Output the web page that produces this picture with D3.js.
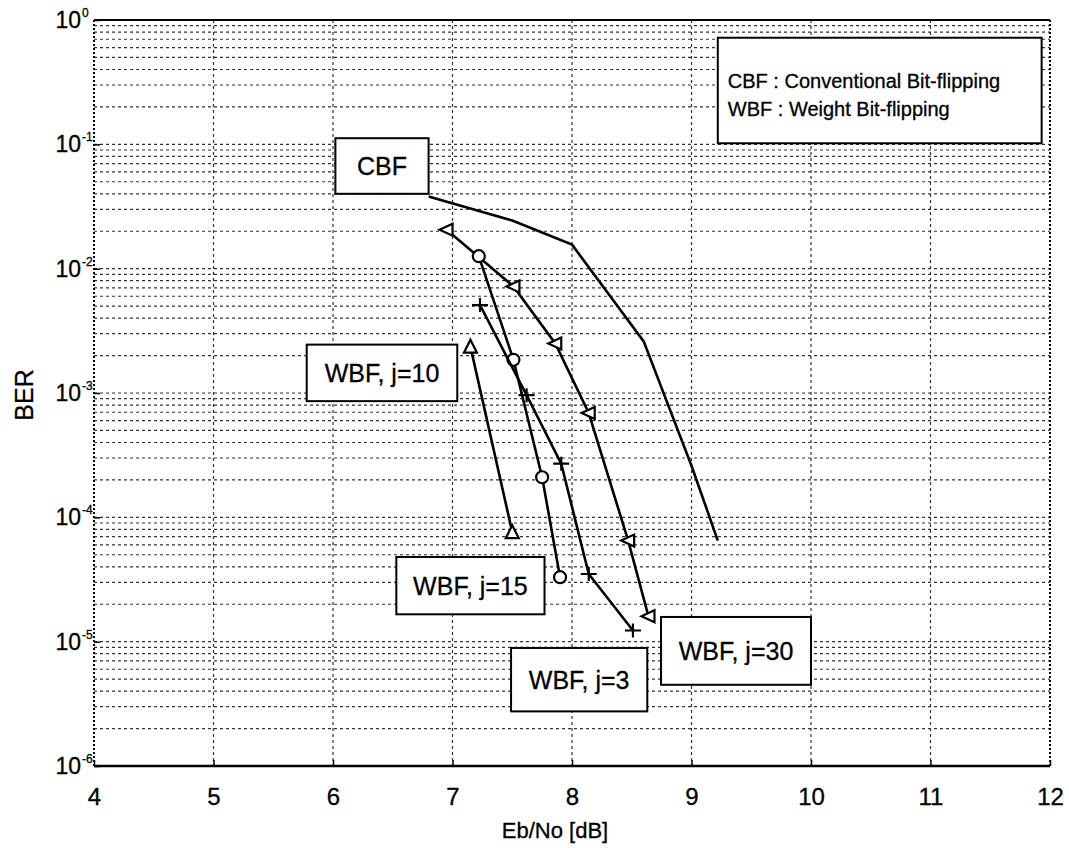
<!DOCTYPE html>
<html>
<head>
<meta charset="utf-8">
<script src="https://cdn.jsdelivr.net/npm/d3@7"></script>
<style>
  body { margin: 0; background: #fff; }
  text { font-family: 'Liberation Sans', Arial, sans-serif; fill: #000; stroke: #000; stroke-width: 0.3; }
</style>
</head>
<body>
<script>
// data
const xTicks = [4, 5, 6, 7, 8, 9, 10, 11, 12];
const yExponents = [0, -1, -2, -3, -4, -5, -6];

const cbfEbNo = [6.8, 7.5, 8.0, 8.6, 9.0, 9.22];
const cbfBer = [0.038, 0.0244, 0.0156, 2.6e-3, 2.6e-4, 6.5e-5];

const wbf30EbNo = [6.95, 7.51, 7.86, 8.14, 8.47, 8.64];
const wbf30Ber = [0.0206, 7.2e-3, 2.5e-3, 6.9e-4, 6.5e-5, 1.6e-5];

const wbf15EbNo = [7.22, 7.51, 7.75, 7.9];
const wbf15Ber = [0.0126, 1.85e-3, 2.1e-4, 3.3e-5];

const wbf3EbNo = [7.23, 7.62, 7.91, 8.14, 8.51];
const wbf3Ber = [5.1e-3, 9.6e-4, 2.7e-4, 3.5e-5, 1.23e-5];

const wbf10EbNo = [7.15, 7.5];
const wbf10Ber = [2.36e-3, 7.6e-5];

const boxLabels = ['CBF', 'WBF, j=10', 'WBF, j=15', 'WBF, j=3', 'WBF, j=30'];
const legendLines = ['CBF : Conventional Bit-flipping', 'WBF : Weight Bit-flipping'];

const width = 1069;
const height = 848;
const plot = { left: 94, right: 1050, top: 20, bottom: 766 };

const svg = d3.select('body').append('svg').attr('width', width).attr('height', height);

const x = d3.scaleLinear().domain([4, 12]).range([plot.left, plot.right]);
const y = d3.scaleLog().domain([1e-6, 1]).range([plot.bottom, plot.top]);

// grid
const grid = svg.append('g')
  .attr('stroke', '#333')
  .attr('stroke-width', 1.2)
  .attr('stroke-dasharray', '3,3');

grid.selectAll('line.v')
  .data(xTicks.slice(1, -1))
  .enter()
  .append('line')
  .attr('x1', (d) => x(d)).attr('x2', (d) => x(d))
  .attr('y1', plot.top).attr('y2', plot.bottom);

const yGridVals = [];
yExponents.slice(0, -1).forEach((e) => {
  for (let m = 1; m < 10; m++) yGridVals.push(m * Math.pow(10, e - 1));
});
grid.selectAll('line.h')
  .data(yGridVals.filter((v) => v > 1e-6 && v < 1))
  .enter()
  .append('line')
  .attr('x1', plot.left).attr('x2', plot.right)
  .attr('y1', (d) => y(d)).attr('y2', (d) => y(d));

// frame
svg.append('line')
  .attr('x1', plot.left).attr('x2', plot.right)
  .attr('y1', plot.top).attr('y2', plot.top)
  .attr('stroke', '#000').attr('stroke-width', 2);
svg.append('line')
  .attr('x1', plot.left).attr('x2', plot.right)
  .attr('y1', plot.bottom).attr('y2', plot.bottom)
  .attr('stroke', '#000').attr('stroke-width', 2.5);
[plot.left, plot.right].forEach((px) => {
  svg.append('line')
    .attr('x1', px).attr('x2', px)
    .attr('y1', plot.top).attr('y2', plot.bottom)
    .attr('stroke', '#000').attr('stroke-width', 2)
    .attr('stroke-dasharray', '2,2');
});

// x axis
const xAxis = svg.append('g')
  .attr('transform', `translate(0, ${plot.bottom})`)
  .call(d3.axisBottom(x).tickValues(xTicks).tickSize(-6).tickPadding(22).tickFormat(d3.format('d')));
xAxis.select('.domain').remove();
xAxis.selectAll('text').attr('font-size', '24px').attr('font-family', "'Liberation Sans', Arial, sans-serif");
xAxis.selectAll('line').attr('stroke-width', 1.5);

// y axis
const yAxis = svg.append('g')
  .attr('transform', `translate(${plot.left}, 0)`)
  .call(d3.axisLeft(y).tickValues(yExponents.map((e) => Math.pow(10, e))).tickSize(-6).tickFormat(''));
yAxis.select('.domain').remove();
yAxis.selectAll('line').attr('stroke-width', 1.5);

const yLabels = svg.append('g');
yExponents.forEach((e) => {
  const py = y(Math.pow(10, e));
  yLabels.append('text')
    .attr('x', plot.left - 13)
    .attr('y', py + 8)
    .attr('text-anchor', 'end')
    .attr('font-size', '23px')
    .text('10');
  yLabels.append('text')
    .attr('x', plot.left - 12)
    .attr('y', py - 3)
    .attr('font-size', '12px')
    .attr('stroke-width', 0.1)
    .text(String(e));
});

// axis titles
svg.append('text')
  .attr('x', 555)
  .attr('y', 838)
  .attr('text-anchor', 'middle')
  .attr('font-size', '22px')
  .text('Eb/No [dB]');

svg.append('text')
  .attr('transform', 'translate(33, 395) rotate(-90)')
  .attr('text-anchor', 'middle')
  .attr('font-size', '25px')
  .text('BER');

// curves
const series = [
  { xs: cbfEbNo, ys: cbfBer, marker: null },
  { xs: wbf30EbNo, ys: wbf30Ber, marker: 'M-7,0L6,-6L6,6Z' },
  { xs: wbf15EbNo, ys: wbf15Ber, marker: 'circle' },
  { xs: wbf3EbNo, ys: wbf3Ber, marker: 'M-8,0H8M0,-7V7' },
  { xs: wbf10EbNo, ys: wbf10Ber, marker: 'M0,-7L6.5,6L-6.5,6Z' },
];

const line = d3.line()
  .x((d) => x(d[0]))
  .y((d) => y(d[1]));

series.forEach((s) => {
  const pts = s.xs.map((v, i) => [v, s.ys[i]]);
  svg.append('path')
    .datum(pts)
    .attr('fill', 'none')
    .attr('stroke', '#000')
    .attr('stroke-width', 2.6)
    .attr('d', line);

  if (!s.marker) return;
  const g = svg.append('g');
  if (s.marker === 'circle') {
    g.selectAll('circle')
      .data(pts)
      .enter()
      .append('circle')
      .attr('cx', (d) => x(d[0]))
      .attr('cy', (d) => y(d[1]))
      .attr('r', 6)
      .attr('fill', '#fff')
      .attr('stroke', '#000')
      .attr('stroke-width', 2.2);
  } else {
    g.selectAll('path')
      .data(pts)
      .enter()
      .append('path')
      .attr('d', s.marker)
      .attr('transform', (d) => `translate(${x(d[0])}, ${y(d[1])})`)
      .attr('fill', '#fff')
      .attr('stroke', '#000')
      .attr('stroke-width', 2.2);
  }
});

// label boxes, corners in data units
const boxes = [
  { x0: 6.02, x1: 6.8, y0: 1.12e-1, y1: 4.0e-2 },
  { x0: 5.78, x1: 7.04, y0: 2.45e-3, y1: 8.6e-4 },
  { x0: 6.53, x1: 7.77, y0: 4.8e-5, y1: 1.66e-5 },
  { x0: 7.49, x1: 8.63, y0: 8.9e-6, y1: 2.75e-6 },
  { x0: 8.745, x1: 10.0, y0: 1.58e-5, y1: 4.5e-6 },
];

const boxG = svg.append('g');
boxes.forEach((b, i) => {
  boxG.append('rect')
    .attr('x', x(b.x0))
    .attr('y', y(b.y0))
    .attr('width', x(b.x1) - x(b.x0))
    .attr('height', y(b.y1) - y(b.y0))
    .attr('fill', '#fff')
    .attr('stroke', '#000')
    .attr('stroke-width', 2);
  boxG.append('text')
    .attr('x', (x(b.x0) + x(b.x1)) / 2)
    .attr('y', (y(b.y0) + y(b.y1)) / 2 + 9)
    .attr('text-anchor', 'middle')
    .attr('font-size', '25px')
    .text(boxLabels[i]);
});

// legend note
const lg = { x0: 9.22, x1: 11.93, y0: 0.72, y1: 0.102 };
boxG.append('rect')
  .attr('x', x(lg.x0))
  .attr('y', y(lg.y0))
  .attr('width', x(lg.x1) - x(lg.x0))
  .attr('height', y(lg.y1) - y(lg.y0))
  .attr('fill', '#fff')
  .attr('stroke', '#000')
  .attr('stroke-width', 2);
legendLines.forEach((t, i) => {
  boxG.append('text')
    .attr('x', x(lg.x0) + 10)
    .attr('y', y(lg.y0) + 50 + i * 28)
    .attr('font-size', '20px')
    .text(t);
});
</script>
</body>
</html>
